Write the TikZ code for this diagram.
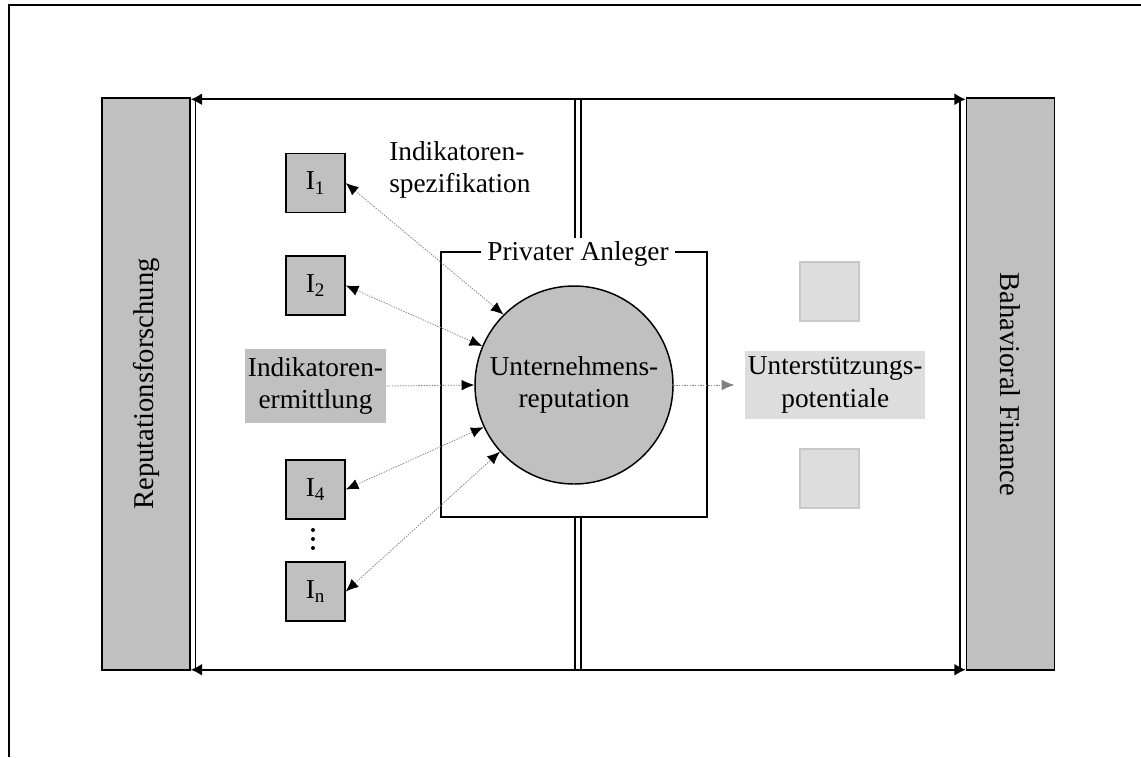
\documentclass[tikz,border=0pt]{standalone}
\usepackage{fontspec}
\setmainfont{Liberation Serif}
\usetikzlibrary{arrows.meta,calc}
\definecolor{bargray}{HTML}{C0C0C0}
\definecolor{palegray}{HTML}{DDDDDD}
\definecolor{paleedge}{HTML}{C8C8C8}
\definecolor{dotgray}{HTML}{808080}
\begin{document}
\begin{tikzpicture}[x=0.75pt,y=-0.75pt,
  font=\fontsize{20.5}{24.5}\selectfont,
  bar/.style={draw, line width=1.1pt, fill=bargray, minimum width=66pt, minimum height=429pt, inner sep=0pt},
  barlabel/.style={font=\fontsize{21.5}{25}\selectfont},
  ibox/.style={draw, line width=1.1pt, fill=bargray, minimum size=44.25pt, inner sep=0pt},
  ghost/.style={draw=paleedge, line width=0.8pt, fill=palegray, minimum size=44.25pt, inner sep=0pt},
  frameline/.style={line width=1.1pt},
  span/.style={line width=1.4pt, {Latex[length=8.5pt,width=9pt]}-{Latex[length=8.5pt,width=9pt]}},
  link/.style={draw=dotgray, line width=0.6pt, dash pattern=on 1pt off 1pt},
  twoway/.style={link, {Latex[length=9.5pt,width=8pt,color=black]}-{Latex[length=9.5pt,width=8pt,color=black]}},
  oneway/.style={link, -{Latex[length=9.5pt,width=8pt,color=black]}},
  greyway/.style={link, -{Latex[length=9.5pt,width=8pt,color=dotgray]}},
]
\useasboundingbox (0,0) rectangle (1141,757);

% outer frame
\draw[line width=0.9pt] (9,757) -- (9,5) -- (1141,5);

% side bars
\node[bar] (leftbar) at (146,384) {};
\node[barlabel, rotate=90] (leftlabel) at (leftbar.center) {Reputationsforschung};
\node[bar] (rightbar) at (1010.5,384) {};
\node[barlabel, rotate=-90] (rightlabel) at (rightbar.center) {Bahavioral Finance};

% inner guide lines beside the bars
\draw[frameline] ($(leftbar.north east)+(5,2)$) -- ($(leftbar.south east)+(5,-1)$);
\draw[frameline] ($(rightbar.north west)+(-6,2)$) -- ($(rightbar.south west)+(-6,-1)$);

% horizontal double arrows
\draw[span] ($(leftbar.north east)+(0,2)$) -- ($(rightbar.north west)+(0,2)$);
\draw[span] ($(leftbar.south east)+(0,-1)$) -- ($(rightbar.south west)+(0,-1)$);

% central double divider
\coordinate (midtop) at (578,100);
\coordinate (midbot) at (578,669);
\draw[frameline] ($(midtop)+(-3,0)$) -- ($(midbot)+(-3,0)$);
\draw[frameline] ($(midtop)+(3,0)$) -- ($(midbot)+(3,0)$);

% investor box
\node[draw, line width=1.1pt, fill=white, minimum width=199.5pt, minimum height=198.75pt, inner sep=0pt] (anleger) at (574,384.5) {};
\node[fill=white, inner xsep=5pt, inner ysep=3pt] (anlegerlabel) at (578,254) {Privater Anleger};

% reputation circle
\node[circle, draw, line width=1.1pt, fill=bargray, minimum size=148.5pt, inner sep=0pt, align=center] (rep) at (574,385) {Unternehmens-\\reputation};

% indicators
\node[ibox] (I1) at (315.5,183) {I\textsubscript{1}};
\node[ibox] (I2) at (315.5,285.5) {I\textsubscript{2}};
\node[ibox] (I4) at (315.5,489.5) {I\textsubscript{4}};
\node[ibox] (In) at (315.5,591.5) {I\textsubscript{n}};
\fill (313,530) circle (2);
\fill (313,539) circle (2);
\fill (313,548) circle (2);

\node[fill=bargray, minimum width=106pt, minimum height=56pt, inner sep=0pt, align=center] (ermittlung) at (315.5,386) {Indikatoren-\\ermittlung};
\node[anchor=west, align=left, inner sep=0pt] (spez) at (389,170) {Indikatoren-\\spezifikation};

% support potentials
\node[ghost] (ghostA) at (829.5,291.5) {};
\node[ghost] (ghostB) at (829.5,478.5) {};
\node[anchor=west, fill=palegray, minimum height=51pt, inner xsep=2pt, align=center] (support) at (745,385) {Unterstützungs-\\potentiale};

% connectors
\draw[twoway] (I1.east) -- (rep.135);
\draw[twoway] (I2.east) -- (rep.157);
\draw[oneway] (ermittlung.east) -- (rep.west);
\draw[twoway] (I4.east) -- (rep.205);
\draw[twoway] (In.east) -- (rep.222);
\draw[greyway, shorten >=8pt] (rep.east) -- (support.west);
\end{tikzpicture}
\end{document}
